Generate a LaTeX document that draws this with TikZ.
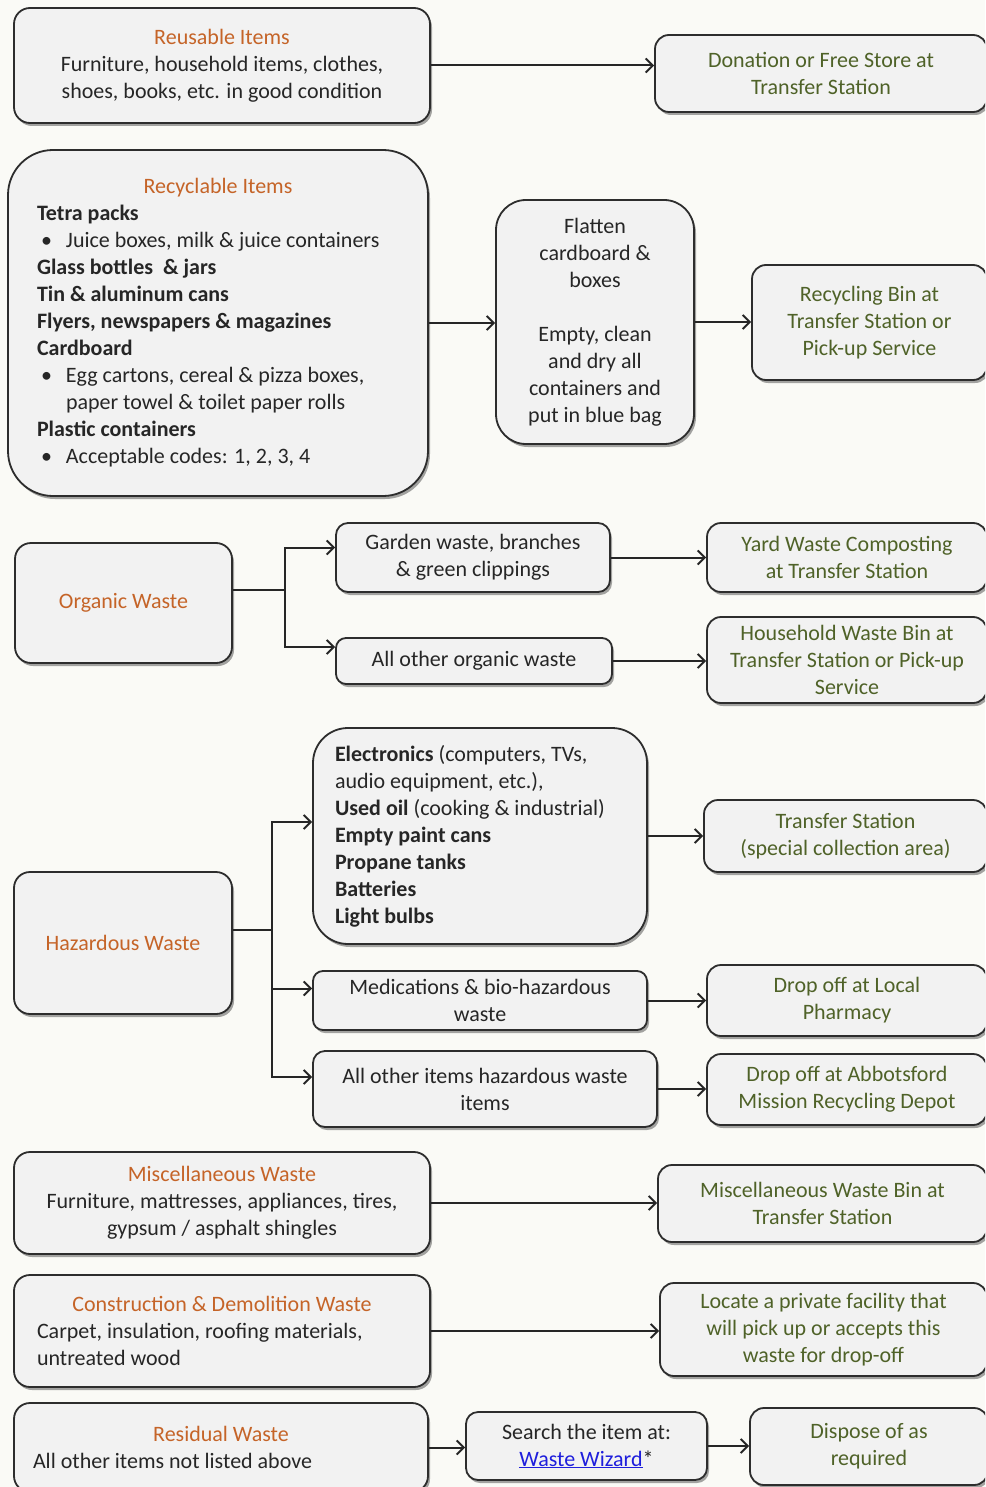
\documentclass[tikz,border=0pt]{standalone}
\usepackage{fontspec}
\setmainfont{Carlito}
\usetikzlibrary{
  arrows.meta, % Straight Barb arrow tips
  shadows      % drop shadows under the boxes
}
\definecolor{bgpaper}{RGB}{250,250,246}
\definecolor{boxfill}{RGB}{242,242,242}
\definecolor{boxline}{RGB}{45,45,45}
\definecolor{titleorange}{RGB}{197,100,40}
\definecolor{destgreen}{RGB}{79,98,40}
\definecolor{bodytext}{RGB}{38,38,38}
\definecolor{linkblue}{RGB}{30,30,220}

\begin{document}
\begin{tikzpicture}[x=1pt, y=-1pt, >={Straight Barb[length=7pt,width=14pt]},
  wastebox/.style={draw=boxline, line width=1.8pt, fill=boxfill, rounded corners=16pt,
    drop shadow={shadow xshift=2pt, shadow yshift=-3pt, opacity=0.35, fill=black},
    text=bodytext, font=\fontsize{22}{27}\selectfont, align=center, inner ysep=3pt},
  destbox/.style={wastebox, text=destgreen, rounded corners=14pt},
  flow/.style={->, line width=2pt, draw=black!85},
  trunk/.style={line width=2pt, draw=black!85}]

  % === page and clip (right column is cut by the edge) ===
  \useasboundingbox (0,0) rectangle (985,1487);
  \fill[bgpaper] (0,0) rectangle (985,1487);
  \clip (0,0) rectangle (985,1487);

  % === Reusable items ===
  \node[wastebox, minimum width=416pt, minimum height=115pt] (reusable) at (222,65.5)
    {\textcolor{titleorange}{Reusable Items}\\Furniture, household items, clothes,\\shoes, books, etc. in good condition};
  \node[destbox, minimum width=332pt, minimum height=77pt] (donation) at (821,73.5)
    {Donation or Free Store at\\Transfer Station};

  % === Recyclable items ===
  \node[wastebox, rounded corners=45pt, minimum width=420pt, minimum height=346pt,
        text width=362pt, inner xsep=29pt, align=flush left] (recyclable) at (218,323)
    {\noindent\makebox[\hsize]{\textcolor{titleorange}{Recyclable Items}}\\
     \textbf{Tetra packs}\\
     \makebox[29pt][l]{\hspace{4pt}•}Juice boxes, milk \& juice containers\\
     \textbf{Glass bottles \ \& jars}\\
     \textbf{Tin \& aluminum cans}\\
     \textbf{Flyers, newspapers \& magazines}\\
     \textbf{Cardboard}\\
     \makebox[29pt][l]{\hspace{4pt}•}Egg cartons, cereal \& pizza boxes,\\
     \hspace*{29pt}paper towel \& toilet paper rolls\\
     \textbf{Plastic containers}\\
     \makebox[29pt][l]{\hspace{4pt}•}Acceptable codes: 1, 2, 3, 4};
  \node[wastebox, rounded corners=30pt, minimum width=198pt, minimum height=244pt] (flatten) at (595,322)
    {Flatten\\cardboard \&\\boxes\\[27pt]Empty, clean\\and dry all\\containers and\\put in blue bag};
  \node[destbox, minimum width=235pt, minimum height=115pt] (recyclebin) at (869.5,322.5)
    {Recycling Bin at\\Transfer Station or\\Pick-up Service};

  % === Organic waste ===
  \node[wastebox, minimum width=217pt, minimum height=120pt, text=titleorange] (organic) at (123.5,603) {Organic Waste};
  \node[wastebox, rounded corners=12pt, minimum width=274pt, minimum height=69pt] (garden) at (473,557.5)
    {Garden waste, branches\\\& green clippings};
  \node[wastebox, rounded corners=10pt, minimum width=276pt, minimum height=46pt] (otherorganic) at (474,661)
    {All other organic waste};
  \node[destbox, minimum width=280pt, minimum height=69pt] (yard) at (847,557.5)
    {Yard Waste Composting\\at Transfer Station};
  \node[destbox, minimum width=280pt, minimum height=86pt] (household) at (847,660)
    {Household Waste Bin at\\Transfer Station or Pick-up\\Service};

  % === Hazardous waste ===
  \node[wastebox, minimum width=218pt, minimum height=142pt, text=titleorange] (hazardous) at (123,943) {Hazardous Waste};
  \node[wastebox, rounded corners=35pt, minimum width=334pt, minimum height=216pt,
        text width=290pt, inner xsep=22pt, align=flush left] (electronics) at (480,836)
    {\textbf{Electronics} (computers, TVs,\\audio equipment, etc.),\\\textbf{Used oil} (cooking \& industrial)\\
     \textbf{Empty paint cans}\\\textbf{Propane tanks}\\\textbf{Batteries}\\\textbf{Light bulbs}};
  \node[destbox, minimum width=283pt, minimum height=72pt] (transfer) at (845.5,836)
    {Transfer Station\\(special collection area)};
  \node[wastebox, rounded corners=10pt, minimum width=334pt, minimum height=59pt] (medication) at (480,1000.5)
    {Medications \& bio-hazardous\\waste};
  \node[destbox, minimum width=280pt, minimum height=71pt] (pharmacy) at (847,1000.5)
    {Drop off at Local\\Pharmacy};
  \node[wastebox, rounded corners=12pt, minimum width=344pt, minimum height=76pt] (otherhazard) at (485,1089)
    {All other items hazardous waste\\items};
  \node[destbox, minimum width=280pt, minimum height=71pt] (depot) at (847,1089.5)
    {Drop off at Abbotsford\\Mission Recycling Depot};

  % === Miscellaneous, construction, residual ===
  \node[wastebox, minimum width=416pt, minimum height=102pt] (misc) at (222,1203)
    {\textcolor{titleorange}{Miscellaneous Waste}\\Furniture, mattresses, appliances, tires,\\gypsum / asphalt shingles};
  \node[destbox, minimum width=329pt, minimum height=77pt] (miscbin) at (822.5,1203.5)
    {Miscellaneous Waste Bin at\\Transfer Station};
  \node[wastebox, minimum width=416pt, minimum height=112pt, text width=370pt, inner xsep=23pt, align=flush left] (construction) at (222,1331)
    {\noindent\makebox[\hsize]{\textcolor{titleorange}{Construction \& Demolition Waste}}\\
     Carpet, insulation, roofing materials,\\untreated wood};
  \node[destbox, minimum width=327pt, minimum height=93pt] (facility) at (823.5,1329.5)
    {Locate a private facility that\\will pick up or accepts this\\waste for drop-off};
  \node[wastebox, minimum width=414pt, minimum height=89pt, text width=376pt, inner xsep=19pt, align=flush left] (residual) at (221,1447.5)
    {\noindent\makebox[\hsize]{\textcolor{titleorange}{Residual Waste}}\\All other items not listed above};
  \node[wastebox, rounded corners=12pt, minimum width=241pt, minimum height=68pt] (search) at (586.5,1446)
    {Search the item at:\\\textcolor{linkblue}{\underline{Waste Wizard}}*};
  \node[destbox, minimum width=238pt, minimum height=77pt] (dispose) at (869,1446.5)
    {Dispose of as\\required};

  % === connectors ===
  \draw[flow] (reusable.east) -- (reusable.east -| donation.west);
  \draw[flow] (recyclable.east) -- (recyclable.east -| flatten.west);
  \draw[flow] (flatten.east) -- (flatten.east -| recyclebin.west);

  % organic: one trunk, two branches
  \coordinate (organicfork) at (285,590);
  \draw[trunk] (organic.east |- organicfork) -- (organicfork);
  \draw[flow] (organicfork) |- ([yshift=10pt]garden.west);
  \draw[flow] (organicfork) |- ([yshift=14pt]otherorganic.west);
  \draw[flow] (garden.east) -- (garden.east -| yard.west);
  \draw[flow] (otherorganic.east) -- (otherorganic.east -| household.west);

  % hazardous: one trunk, three branches
  \coordinate (hazardfork) at (272,930);
  \draw[trunk] (hazardous.east |- hazardfork) -- (hazardfork);
  \draw[flow] (hazardfork) |- ([yshift=14pt]electronics.west);
  \draw[flow] (hazardfork) |- ([yshift=12pt]medication.west);
  \draw[flow] (hazardfork) |- ([yshift=12pt]otherhazard.west);
  \draw[flow] (electronics.east) -- (electronics.east -| transfer.west);
  \draw[flow] (medication.east) -- (medication.east -| pharmacy.west);
  \draw[flow] (otherhazard.east) -- (otherhazard.east -| depot.west);

  \draw[flow] (misc.east) -- (misc.east -| miscbin.west);
  \draw[flow] (construction.east) -- (construction.east -| facility.west);
  \draw[flow] (residual.east) -- (residual.east -| search.west);
  \draw[flow] (search.east) -- (search.east -| dispose.west);
\end{tikzpicture}
\end{document}
